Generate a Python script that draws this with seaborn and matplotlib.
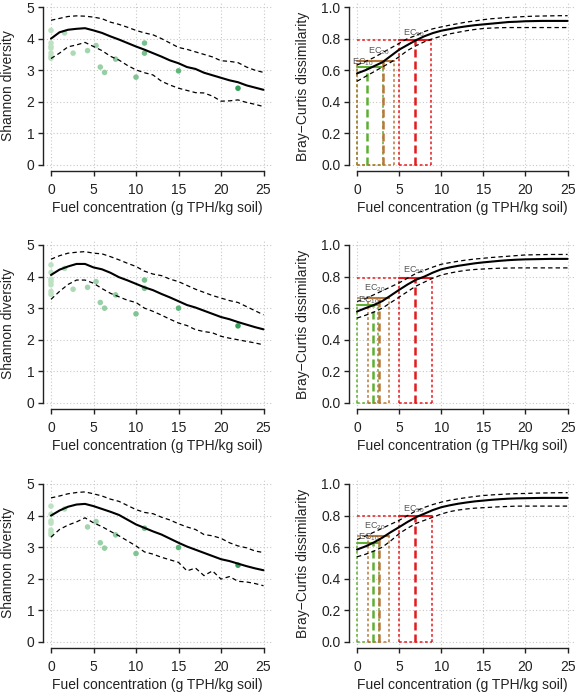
import numpy as np
import pandas as pd
import seaborn as sns
import matplotlib.pyplot as plt
from matplotlib.colors import LinearSegmentedColormap

# ---- data ----
fuel_grid = list(range(26))

# Shannon diversity: fitted curve with upper / lower bounds, three rows
shannon_fit = [
    [4.00, 4.20, 4.28, 4.31, 4.33, 4.26, 4.18, 4.07, 3.97, 3.86, 3.75, 3.65, 3.54,
     3.43, 3.31, 3.22, 3.10, 3.04, 2.92, 2.84, 2.76, 2.68, 2.62, 2.52, 2.45, 2.38],
    [4.05, 4.22, 4.32, 4.40, 4.40, 4.29, 4.23, 4.12, 3.98, 3.88, 3.77, 3.66, 3.57,
     3.45, 3.34, 3.22, 3.10, 3.02, 2.92, 2.82, 2.72, 2.65, 2.56, 2.48, 2.40, 2.33],
    [4.00, 4.16, 4.28, 4.35, 4.37, 4.30, 4.21, 4.12, 4.02, 3.87, 3.72, 3.61, 3.50,
     3.40, 3.27, 3.14, 3.02, 2.92, 2.82, 2.72, 2.62, 2.56, 2.48, 2.40, 2.33, 2.27],
]
shannon_upper = [
    [4.58, 4.64, 4.70, 4.72, 4.71, 4.68, 4.63, 4.52, 4.45, 4.36, 4.26, 4.18, 4.12,
     4.00, 3.86, 3.72, 3.66, 3.58, 3.50, 3.42, 3.30, 3.28, 3.24, 3.10, 3.00, 2.93],
    [4.55, 4.66, 4.74, 4.77, 4.79, 4.74, 4.72, 4.63, 4.53, 4.42, 4.32, 4.17, 4.08,
     4.03, 3.92, 3.84, 3.72, 3.60, 3.50, 3.40, 3.32, 3.24, 3.18, 3.05, 2.92, 2.79],
    [4.56, 4.62, 4.69, 4.73, 4.75, 4.69, 4.62, 4.52, 4.45, 4.32, 4.19, 4.10, 4.06,
     3.95, 3.86, 3.74, 3.64, 3.56, 3.40, 3.36, 3.28, 3.14, 3.04, 2.98, 2.88, 2.83],
]
shannon_lower = [
    [3.37, 3.54, 3.74, 3.80, 3.88, 3.75, 3.62, 3.44, 3.32, 3.15, 3.01, 2.92, 2.85,
     2.65, 2.53, 2.43, 2.36, 2.29, 2.28, 2.18, 2.02, 2.03, 2.06, 1.98, 1.92, 1.85],
    [3.28, 3.53, 3.75, 3.89, 3.89, 3.79, 3.62, 3.47, 3.36, 3.25, 3.18, 3.00, 2.90,
     2.78, 2.65, 2.53, 2.45, 2.32, 2.26, 2.22, 2.11, 2.05, 2.00, 1.95, 1.90, 1.84],
    [3.32, 3.56, 3.70, 3.80, 3.93, 3.77, 3.65, 3.50, 3.36, 3.20, 3.04, 2.85, 2.78,
     2.68, 2.60, 2.52, 2.25, 2.34, 2.10, 2.25, 1.99, 2.07, 1.92, 1.90, 1.85, 1.78],
]

# observed samples (fuel concentration, Shannon diversity)
obs_fuel = [
    [0, 0, 0, 0, 0, 0, 0, 1.6, 2.6, 4.3, 5.3, 5.8, 6.3, 7.6, 10, 11, 11, 15, 22],
    [0, 0, 0, 0, 0, 0, 0, 1.6, 2.6, 4.3, 5.3, 5.8, 6.3, 7.6, 10, 11, 11, 15, 22],
    [0, 0, 0, 0, 0, 0, 0, 1.6, 4.3, 5.3, 5.8, 6.3, 7.6, 10, 11, 15, 22],
]
obs_shannon = [
    [4.26, 3.86, 3.75, 3.70, 3.54, 3.44, 3.38, 4.18, 3.54, 3.62, 3.78, 3.10, 2.93,
     3.35, 2.78, 3.86, 3.54, 2.98, 2.43],
    [4.37, 4.13, 3.92, 3.84, 3.74, 3.53, 3.44, 4.26, 3.60, 3.66, 3.84, 3.18, 3.00,
     3.42, 2.82, 3.89, 3.63, 3.00, 2.44],
    [4.30, 4.04, 3.83, 3.76, 3.54, 3.46, 3.39, 4.21, 3.64, 3.81, 3.14, 2.97, 3.39,
     2.80, 3.60, 2.99, 2.43],
]

# Bray-Curtis dissimilarity: fitted curve with bounds
bc_fit = [
    [.580, .600, .625, .650, .690, .730, .760, .790, .815, .835, .850, .860, .870,
     .878, .885, .890, .895, .900, .905, .907, .910, .911, .912, .912, .912, .912],
    [.579, .600, .620, .645, .680, .716, .750, .780, .800, .825, .846, .858, .868,
     .876, .884, .890, .895, .900, .904, .907, .909, .910, .911, .912, .912, .912],
    [.585, .605, .630, .660, .695, .727, .760, .790, .812, .835, .853, .865, .875,
     .883, .890, .895, .900, .904, .907, .909, .910, .911, .912, .912, .912, .912],
]
bc_upper = [
    [.633, .655, .680, .710, .740, .770, .800, .820, .845, .862, .874, .885, .895,
     .905, .912, .920, .926, .930, .934, .937, .940, .942, .943, .944, .945, .945],
    [.642, .660, .685, .710, .735, .760, .790, .820, .840, .860, .878, .888, .897,
     .905, .911, .916, .921, .925, .929, .933, .937, .938, .939, .940, .940, .940],
    [.648, .670, .695, .720, .745, .770, .800, .830, .852, .870, .885, .897, .906,
     .914, .921, .927, .931, .934, .937, .939, .940, .942, .943, .944, .945, .945],
]
bc_lower = [
    [.530, .560, .590, .620, .650, .685, .725, .755, .780, .800, .815, .830, .840,
     .850, .858, .864, .867, .869, .870, .870, .870, .870, .870, .870, .870, .870],
    [.537, .555, .575, .600, .635, .670, .705, .740, .765, .790, .810, .822, .832,
     .840, .845, .848, .851, .853, .854, .855, .855, .855, .855, .855, .855, .855],
    [.539, .555, .575, .600, .640, .686, .720, .750, .770, .790, .810, .825, .835,
     .842, .847, .850, .853, .856, .858, .860, .860, .860, .860, .860, .860, .860],
]

# effect concentrations EC10, EC20, EC50: response level, estimate, CI
ec_names = ["10", "20", "50"]
ec_colors = ["#5fae34", "#b8783a", "#e41a1c"]
ec_level = [[0.620, 0.660, 0.790], [0.620, 0.663, 0.794], [0.629, 0.669, 0.795]]
ec_est = [[1.20, 3.10, 6.90], [1.90, 2.56, 6.89], [1.89, 2.56, 6.89]]
ec_low = [[0.00, 0.00, 5.00], [0.00, 1.26, 5.04], [0.00, 1.26, 5.04]]
ec_high = [[3.10, 4.40, 8.80], [2.50, 3.78, 8.86], [2.60, 3.78, 8.86]]

x_ticks = [0, 5, 10, 15, 20, 25]
sh_ticks = [0, 1, 2, 3, 4, 5]
bc_ticks = [0.0, 0.2, 0.4, 0.6, 0.8, 1.0]
x_label = "Fuel concentration (g TPH/kg soil)"

# ---- style ----
sns.set_theme(style="ticks")
plt.rcParams["font.family"] = ["Liberation Sans", "DejaVu Sans"]
plt.rcParams["mathtext.default"] = "regular"
plt.rcParams["font.size"] = 10

fig = plt.figure(figsize=(5.78, 6.95), dpi=100)
bottoms = [0.7535, 0.4111, 0.0672]
h = 0.2455
greens = LinearSegmentedColormap.from_list("gr", ["#bde2c2", "#34a058"])
dash = (0, (3.5, 2.5))
dot = (0, (1.8, 1.6))
label_dx = [-0.5, -0.5, -0.2]
label_dy = [0.032, 0.062, 0.045]


def style_axes(ax, yticks, ylim, yfmt, ylab, ylab_x):
    ax.set_xlim(-1, 26)
    ax.set_ylim(*ylim)
    ax.set_xticks(x_ticks)
    ax.set_yticks(yticks)
    ax.set_yticklabels([yfmt.format(t) for t in yticks])
    for s in ["top", "right"]:
        ax.spines[s].set_visible(False)
    ax.spines["left"].set_bounds(yticks[0], yticks[-1])
    ax.spines["bottom"].set_bounds(0, 25)
    for s in ["left", "bottom"]:
        ax.spines[s].set_linewidth(1.0)
        ax.spines[s].set_color("#222222")
    ax.tick_params(axis="both", length=3.8, width=1.0, color="#222222",
                   labelsize=10, labelcolor="#222222")
    ax.tick_params(axis="x", pad=4.5)
    ax.tick_params(axis="y", pad=2)
    ax.grid(True, linestyle=(0, (1, 2)), color="#c8c8c8", linewidth=0.8)
    ax.set_axisbelow(True)
    ax.set_xlabel(x_label, fontsize=10, color="#222222")
    ax.set_ylabel(ylab, fontsize=10, color="#222222")
    ax.xaxis.set_label_coords(0.5, -0.175)
    ax.xaxis.label.set_va("top")
    ax.yaxis.set_label_coords(ylab_x, 0.5)


for row in range(3):
    # ---- left: Shannon diversity ----
    ax = fig.add_axes([42.5 / 578, bottoms[row], 229.5 / 578, h])
    pts = pd.DataFrame({"fuel": obs_fuel[row], "shannon": obs_shannon[row]})
    sns.scatterplot(data=pts, x="fuel", y="shannon", hue="fuel", palette=greens,
                    hue_norm=(0, 22), s=16, linewidth=0, legend=False, ax=ax, zorder=3)
    sns.lineplot(x=fuel_grid, y=shannon_fit[row], color="black", linewidth=1.5,
                 errorbar=None, ax=ax, zorder=4)
    for band in (shannon_upper[row], shannon_lower[row]):
        sns.lineplot(x=fuel_grid, y=band, color="black", linewidth=0.9,
                     linestyle=dash, errorbar=None, ax=ax, zorder=4)
    style_axes(ax, sh_ticks, (-0.2, 5.2), "{:d}", "Shannon diversity", -0.12)

    # ---- right: Bray-Curtis dissimilarity ----
    ax = fig.add_axes([348.6 / 578, bottoms[row], 227.4 / 578, h])
    for k in range(3):
        c = ec_colors[k]
        lv, est, lo, hi = ec_level[row][k], ec_est[row][k], ec_low[row][k], ec_high[row][k]
        # dotted CI box and reference line
        ax.plot([lo, lo], [0, lv], color=c, linestyle=dot, linewidth=1.1, zorder=2)
        ax.plot([hi, hi], [0, lv], color=c, linestyle=dot, linewidth=1.1, zorder=2)
        ax.plot([lo, hi], [0, 0], color=c, linestyle=dot, linewidth=1.1, zorder=2)
        ax.plot([0, hi], [lv, lv], color=c, linestyle=dot, linewidth=1.1, zorder=2)
        # solid CI at response level, dashed estimate
        ax.plot([lo, hi], [lv, lv], color=c, linewidth=1.5, zorder=2)
        ax.plot([est, est], [0, lv], color=c, linestyle=(0, (3.2, 1.6)),
                linewidth=1.8, zorder=2)
        ax.text(est + label_dx[k], lv + label_dy[k], "EC$_{" + ec_names[k] + "}$",
                fontsize=6.5, color="#555555", ha="center", va="center", zorder=5)
    sns.lineplot(x=fuel_grid, y=bc_fit[row], color="black", linewidth=1.5,
                 errorbar=None, ax=ax, zorder=4)
    for band in (bc_upper[row], bc_lower[row]):
        sns.lineplot(x=fuel_grid, y=band, color="black", linewidth=0.9,
                     linestyle=dash, errorbar=None, ax=ax, zorder=4)
    style_axes(ax, bc_ticks, (-0.04, 1.04), "{:.1f}", "Bray\u2212Curtis dissimilarity", -0.17)

fig.savefig("out.png", dpi=100)
